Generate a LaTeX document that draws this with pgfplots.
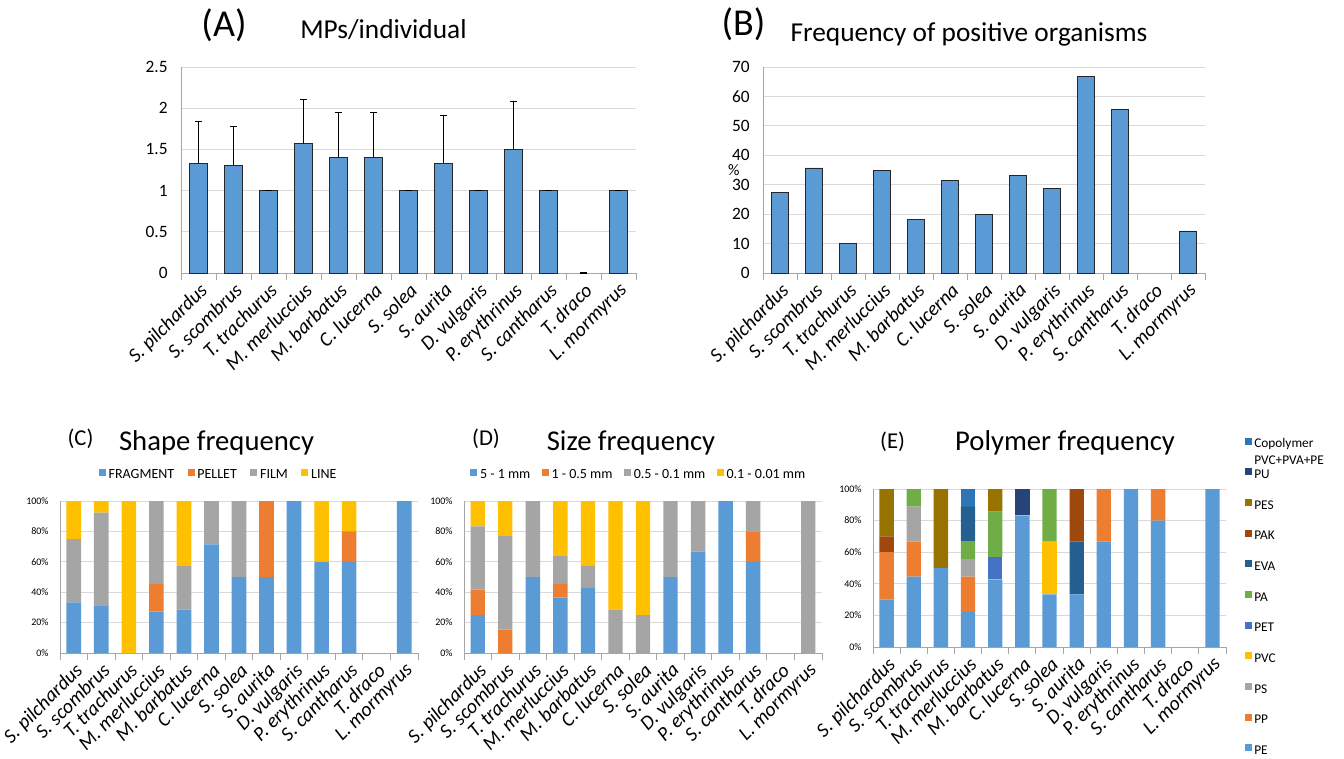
\documentclass[border=0pt]{standalone}
\usepackage{fontspec}
\setmainfont{Carlito}
\usepackage{pgfplots}
\usepackage{pgfplotstable}
\pgfplotsset{compat=1.18}

\definecolor{cPE}{HTML}{5B9BD5}
\definecolor{cPP}{HTML}{ED7D31}
\definecolor{cPS}{HTML}{A5A5A5}
\definecolor{cPVC}{HTML}{FFC000}
\definecolor{cPET}{HTML}{4472C4}
\definecolor{cPA}{HTML}{70AD47}
\definecolor{cEVA}{HTML}{255E91}
\definecolor{cPAK}{HTML}{9E480E}
\definecolor{cPES}{HTML}{997300}
\definecolor{cPU}{HTML}{264478}
\definecolor{cCOP}{HTML}{2E75B6}
\definecolor{axgray}{HTML}{A6A6A6}
\definecolor{gridgray}{HTML}{D9D9D9}

% MPs per individual (mean and upper deviation)
\pgfplotstableread{
x mean err
0  1.33 0.51
1  1.30 0.48
2  1.00 0
3  1.57 0.53
4  1.40 0.55
5  1.40 0.55
6  1.00 0
7  1.33 0.58
8  1.00 0
9  1.50 0.58
10 1.00 0
11 0    0
12 1.00 0
}\tblA

% frequency of positive organisms (%)
\pgfplotstableread{
x freq
0  27.3
1  35.7
2  10.0
3  35.0
4  18.2
5  31.3
6  20.0
7  33.3
8  28.6
9  66.7
10 55.6
11 0
12 14.3
}\tblB

% shape frequency (%)
\pgfplotstableread{
x frag pellet film line
0  33.3 0    41.7 25.0
1  30.8 0    61.5 7.7
2  0    0    0    100
3  27.3 18.2 54.5 0
4  28.6 0    28.6 42.8
5  71.4 0    28.6 0
6  50   0    50   0
7  50   50   0    0
8  100  0    0    0
9  60   0    0    40
10 60   20   0    20
11 0    0    0    0
12 100  0    0    0
}\tblC

% size frequency (%)
\pgfplotstableread{
x s1 s2 s3 s4
0  25.0 16.7 41.6 16.7
1  0    15.4 61.5 23.1
2  50   0    50   0
3  36.4 9.1  18.2 36.3
4  42.9 0    14.3 42.8
5  0    0    28.6 71.4
6  0    0    25   75
7  50   0    50   0
8  66.7 0    33.3 0
9  100  0    0    0
10 60   20   20   0
11 0    0    0    0
12 0    0    100  0
}\tblD

% polymer frequency (%)
\pgfplotstableread{
x PE PP PS PVC PET PA EVA PAK PES PU COP
0  30   30   0    0    0    0    0    10   30   0    0
1  44.5 22.2 22.2 0    0    11.1 0    0    0    0    0
2  50   0    0    0    0    0    0    0    50   0    0
3  22.3 22.2 11.1 0    0    11.1 22.2 0    0    0    11.1
4  42.8 0    0    0    14.3 28.6 0    0    14.3 0    0
5  83.3 0    0    0    0    0    0    0    0    16.7 0
6  33.3 0    0    33.4 0    33.3 0    0    0    0    0
7  33.3 0    0    0    0    0    33.4 33.3 0    0    0
8  66.7 33.3 0    0    0    0    0    0    0    0    0
9  100  0    0    0    0    0    0    0    0    0    0
10 80   20   0    0    0    0    0    0    0    0    0
11 0    0    0    0    0    0    0    0    0    0    0
12 100  0    0    0    0    0    0    0    0    0    0
}\tblE

\pgfplotsset{
  panel/.style={
    scale only axis, anchor=south west,
    xmin=-0.5, xmax=12.5, ymin=0,
    xtick={-0.5,0.5,1.5,2.5,3.5,4.5,5.5,6.5,7.5,8.5,9.5,10.5,11.5,12.5},
    x tick label as interval,
    xticklabels={S. pilchardus,S. scombrus,T. trachurus,M. merluccius,M. barbatus,C. lucerna,S. solea,S. aurita,D. vulgaris,P. erythrinus,S. cantharus,T. draco,L. mormyrus},
    xticklabel style={rotate=45, anchor=north east, inner sep=1pt,
      font=\itshape\fontsize{15}{16}\selectfont},
    axis x line*=bottom, axis y line*=left,
    axis line style={-, draw=axgray, line width=0.75pt},
    tick align=outside, major tick length=5pt,
    x tick style={draw=axgray, line width=0.75pt},
    y tick style={draw=none},
    ymajorgrids, grid style={draw=gridgray, line width=0.6pt},
    /pgf/number format/assume math mode=true,
  },
  pctpanel/.style={
    panel, ybar stacked, ymax=100, ytick={0,20,...,100},
    yticklabel={\pgfmathprintnumber{\tick}\%},
    yticklabel style={font=\fontsize{7.5}{9}\selectfont},
    bar width=10.75pt,
    legend image code/.code={\fill[##1] (0pt,-0.6pt) rectangle (5.4pt,4.8pt);},
  },
}

\begin{document}
\begin{tikzpicture}
\path[use as bounding box] (0,0) rectangle (1008pt,568.5pt);

% ---------- (A) MPs/individual ----------
\node[anchor=base, font=\fontsize{28.5}{30}\selectfont] at (168pt,540.75pt) {(A)};
\node[anchor=base, font=\fontsize{20.5}{23}\selectfont] at (287.6pt,539.25pt) {MPs/individual};
\begin{axis}[panel, at={(135.75pt,363.75pt)}, width=341.25pt, height=154.5pt,
    ymax=2.5, ytick={0,0.5,1,1.5,2,2.5},
    yticklabel style={font=\fontsize{13}{15}\selectfont, xshift=-1.5pt}]
  \addplot[ybar, bar width=13.75pt, fill=cPE, draw=black!85, line width=0.6pt,
    y filter/.expression={y==0 ? nan : y}] table[x=x, y=mean] {\tblA};
  \addplot[draw=none, mark=none, forget plot,
    error bars/.cd, y dir=plus, y explicit,
    error bar style={draw=black, solid, line width=0.8pt},
    error mark options={draw=black, solid, line width=0.8pt, mark size=2.7pt, rotate=90}]
    table[x=x, y=mean, y error=err] {\tblA};
\end{axis}

% ---------- (B) Frequency of positive organisms ----------
\node[anchor=base, font=\fontsize{28.5}{30}\selectfont] at (557.6pt,541.5pt) {(B)};
\node[anchor=base, font=\fontsize{20.5}{23}\selectfont] at (726.75pt,537.2pt) {Frequency of positive organisms};
\begin{axis}[panel, at={(572.25pt,363.75pt)}, width=331.5pt, height=154.5pt,
    ymax=70, ytick={0,10,...,70},
    yticklabel style={font=\fontsize{13}{15}\selectfont, xshift=-1.5pt},
    ylabel={\%}, ylabel style={at={(axis description cs:-0.066,0.5)}, anchor=center,
      rotate=-90, font=\fontsize{12}{14}\selectfont}]
  \addplot[ybar, bar width=13pt, fill=cPE, draw=black!85, line width=0.6pt,
    y filter/.expression={y==0 ? nan : y}] table[x=x, y=freq] {\tblB};
\end{axis}

% ---------- (C) Shape frequency ----------
\node[anchor=base, font=\fontsize{17}{20}\selectfont] at (60.4pt,234.75pt) {(C)};
\node[anchor=base, font=\fontsize{21.5}{24}\selectfont] at (162.4pt,230.5pt) {Shape frequency};
\begin{axis}[pctpanel, at={(45pt,78.75pt)}, width=268.5pt, height=114pt,
    bar width=11pt,
    legend columns=4,
    legend style={draw=none, fill=none, at={(0.444,1.171)}, anchor=center,
      font=\fontsize{10.5}{12}\selectfont,
      /tikz/every even column/.append style={column sep=8pt}}]
  \addplot[fill=cPE, draw=none] table[x=x, y=frag] {\tblC};
  \addplot[fill=cPP, draw=none] table[x=x, y=pellet] {\tblC};
  \addplot[fill=cPS, draw=none] table[x=x, y=film] {\tblC};
  \addplot[fill=cPVC, draw=none] table[x=x, y=line] {\tblC};
  \legend{FRAGMENT, PELLET, FILM, LINE}
\end{axis}

% ---------- (D) Size frequency ----------
\node[anchor=base, font=\fontsize{17}{20}\selectfont] at (364.5pt,234.75pt) {(D)};
\node[anchor=base, font=\fontsize{21.5}{24}\selectfont] at (473.25pt,230.5pt) {Size frequency};
\begin{axis}[pctpanel, at={(348pt,78.75pt)}, width=268.5pt, height=114pt,
    legend columns=4,
    legend style={draw=none, fill=none, at={(0.489,1.171)}, anchor=center,
      font=\fontsize{10.5}{12}\selectfont,
      /tikz/every even column/.append style={column sep=6.5pt}}]
  \addplot[fill=cPE, draw=none] table[x=x, y=s1] {\tblD};
  \addplot[fill=cPP, draw=none] table[x=x, y=s2] {\tblD};
  \addplot[fill=cPS, draw=none] table[x=x, y=s3] {\tblD};
  \addplot[fill=cPVC, draw=none] table[x=x, y=s4] {\tblD};
  \legend{5 - 1 mm, 1 - 0.5 mm, 0.5 - 0.1 mm, 0.1 - 0.01 mm}
\end{axis}

% ---------- (E) Polymer frequency ----------
\node[anchor=base, font=\fontsize{17}{20}\selectfont] at (669.4pt,232.5pt) {(E)};
\node[anchor=base, font=\fontsize{21.5}{24}\selectfont] at (798.75pt,230.5pt) {Polymer frequency};
\begin{axis}[pctpanel, at={(654.75pt,83.25pt)}, width=264.75pt, height=118.5pt,
    reverse legend, legend cell align=left,
    legend style={draw=none, fill=none, inner sep=0pt, at={(1.054,1.335)}, anchor=north west,
      font=\fontsize{10}{12.75}\selectfont, row sep=11pt,
      nodes={inner sep=1.5pt, text height=7pt, text depth=2pt}},
    legend image code/.code={\fill[#1] (0pt,-0.3pt) rectangle (5.2pt,4.9pt);}]
  \addplot[fill=cPE, draw=none] table[x=x, y=PE] {\tblE};
  \addlegendentry{PE}
  \addplot[fill=cPP, draw=none] table[x=x, y=PP] {\tblE};
  \addlegendentry{PP}
  \addplot[fill=cPS, draw=none] table[x=x, y=PS] {\tblE};
  \addlegendentry{PS}
  \addplot[fill=cPVC, draw=none] table[x=x, y=PVC] {\tblE};
  \addlegendentry{PVC}
  \addplot[fill=cPET, draw=none] table[x=x, y=PET] {\tblE};
  \addlegendentry{PET}
  \addplot[fill=cPA, draw=none] table[x=x, y=PA] {\tblE};
  \addlegendentry{PA}
  \addplot[fill=cEVA, draw=none] table[x=x, y=EVA] {\tblE};
  \addlegendentry{EVA}
  \addplot[fill=cPAK, draw=none] table[x=x, y=PAK] {\tblE};
  \addlegendentry{PAK}
  \addplot[fill=cPES, draw=none] table[x=x, y=PES] {\tblE};
  \addlegendentry{PES}
  \addplot[fill=cPU, draw=none] table[x=x, y=PU] {\tblE};
  \addlegendentry{PU}
  \addplot[fill=cCOP, draw=none] table[x=x, y=COP] {\tblE};
  \addlegendentry{\begin{tabular}[t]{@{}l@{}}Copolymer\\PVC+PVA+PE\end{tabular}}
\end{axis}
\end{tikzpicture}
\end{document}
